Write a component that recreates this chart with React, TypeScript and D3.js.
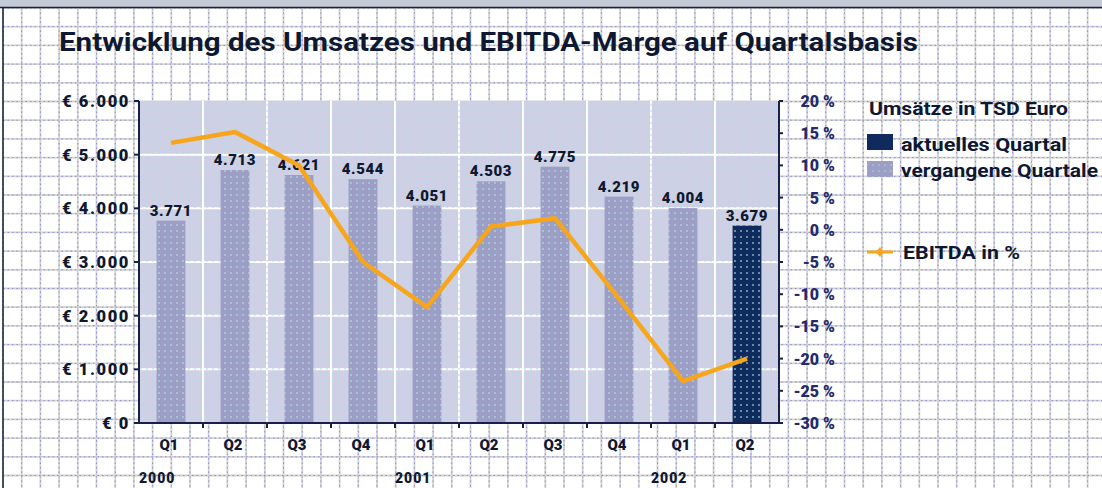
import React from 'react';
import * as d3 from 'd3';

const quarters = ['Q1', 'Q2', 'Q3', 'Q4', 'Q1', 'Q2', 'Q3', 'Q4', 'Q1', 'Q2'];
const years = ['2000', '2001', '2002'];
const yearStart = [0, 4, 8];
// Umsatz in TSD Euro
const umsatz = [3771, 4713, 4621, 4544, 4051, 4503, 4775, 4219, 4004, 3679];
// EBITDA-Marge in %
const ebitda = [13.5, 15.2, 10, -5, -12, 0.5, 1.8, -10.7, -23.5, -20];
const leftTicks = [0, 1000, 2000, 3000, 4000, 5000, 6000];
const rightTicks = [20, 15, 10, 5, 0, -5, -10, -15, -20, -25, -30];

const W = 1102;
const H = 488;
const plot = { left: 139, right: 779, top: 101, bottom: 423 };

const de = d3.formatLocale({ decimal: ',', thousands: '.', grouping: [3], currency: ['€ ', ''] });
const fmtNum = de.format(',');

const ink = '#0e1830';
const navy = '#0f2a5c';
const barGrey = '#9c9ec6';
const orange = '#f7a61c';
const font = 'Roboto, "DejaVu Sans", sans-serif';

export default function App() {
  const x = d3
    .scaleBand<number>()
    .domain(quarters.map((_, i) => i))
    .range([plot.left, plot.right])
    .paddingInner(0.55)
    .paddingOuter(0.275);
  const step = x.step();
  const yL = d3.scaleLinear().domain([0, 6000]).range([plot.bottom, plot.top]);
  const yR = d3.scaleLinear().domain([-30, 20]).range([plot.bottom, plot.top]);
  const cx = (i: number) => (x(i) as number) + x.bandwidth() / 2;
  const bandStart = (i: number) => plot.left + i * step;

  const line = d3
    .line<number>()
    .x((_, i) => cx(i))
    .y((d) => yR(d));

  const gridSp = 18.7;
  const vLines = d3.range(3, W, gridSp);
  const hLines = d3.range(8, H, gridSp);

  return (
    <svg
      width={W}
      height={H}
      style={{ position: 'absolute', left: 0, top: 0, background: '#fff' }}
      fontFamily={font}
    >
      <defs>
        <pattern id="dots" width={6} height={6} patternUnits="userSpaceOnUse">
          <circle cx={3} cy={3} r={0.9} fill="#a8e4e0" />
        </pattern>
      </defs>

      {/* graph paper */}
      <g>
        {vLines.map((v) => (
          <g key={'v' + v}>
            <line x1={v} x2={v} y1={8} y2={H} stroke="#d2d2d2" strokeWidth={1.8} />
            <line x1={v} x2={v} y1={8} y2={H} stroke="#8c8ce0" strokeWidth={1} strokeDasharray="1.5 3" />
          </g>
        ))}
        {hLines.map((h) => (
          <g key={'h' + h}>
            <line x1={3} x2={W} y1={h} y2={h} stroke="#d2d2d2" strokeWidth={1.8} />
            <line x1={3} x2={W} y1={h} y2={h} stroke="#8c8ce0" strokeWidth={1} strokeDasharray="1.5 3" />
          </g>
        ))}
      </g>
      <rect x={0} y={0} width={W} height={7} fill="#c4cbd6" />
      <line x1={0} x2={W} y1={7.5} y2={7.5} stroke="#1a2238" strokeWidth={1.5} />
      <line x1={3} x2={3} y1={7} y2={H} stroke="#1a2238" strokeWidth={1.5} />

      <text
        x={59}
        y={51}
        fontSize={26}
        fontWeight={700}
        fill={ink}
        textLength={859}
        lengthAdjust="spacingAndGlyphs"
      >
        Entwicklung des Umsatzes und EBITDA-Marge auf Quartalsbasis
      </text>

      {/* plot background */}
      <rect
        x={plot.left}
        y={plot.top}
        width={plot.right - plot.left}
        height={plot.bottom - plot.top}
        fill="#cfcfe5"
      />
      {leftTicks.slice(1, -1).map((t) => (
        <line key={'gl' + t} x1={plot.left} x2={plot.right} y1={yL(t)} y2={yL(t)} stroke="#fff" strokeWidth={2} />
      ))}
      {quarters.slice(1).map((_, i) => (
        <line
          key={'gv' + i}
          x1={bandStart(i + 1)}
          x2={bandStart(i + 1)}
          y1={plot.top}
          y2={plot.bottom}
          stroke="#fff"
          strokeWidth={2}
        />
      ))}

      {/* bars */}
      {umsatz.map((v, i) => (
        <rect
          key={'b' + i}
          x={x(i)}
          y={yL(v)}
          width={x.bandwidth()}
          height={yL(0) - yL(v)}
          fill={i === umsatz.length - 1 ? navy : barGrey}
        />
      ))}
      <rect
        x={plot.left}
        y={plot.top}
        width={plot.right - plot.left}
        height={plot.bottom - plot.top}
        fill="url(#dots)"
        opacity={0.8}
      />
      {umsatz.map((v, i) => (
        <text
          key={'bl' + i}
          x={cx(i)}
          y={yL(v) - 5}
          textAnchor="middle"
          fontSize={15}
          fontWeight={900}
          letterSpacing={0.6}
          fill={ink}
        >
          {fmtNum(v)}
        </text>
      ))}

      {/* EBITDA line */}
      <path d={line(ebitda) as string} fill="none" stroke={orange} strokeWidth={4.5} strokeLinejoin="round" />

      {/* axes */}
      <line x1={plot.left} x2={plot.left} y1={plot.top} y2={plot.bottom} stroke="#1a1f4a" strokeWidth={2} />
      <line x1={plot.right} x2={plot.right} y1={plot.top} y2={plot.bottom} stroke="#1a1f4a" strokeWidth={2} />
      <line x1={plot.left - 1} x2={plot.right + 1} y1={plot.bottom} y2={plot.bottom} stroke="#1a1f4a" strokeWidth={2} />

      {leftTicks.map((t) => (
        <g key={'lt' + t}>
          <line x1={plot.left - 5} x2={plot.left} y1={yL(t)} y2={yL(t)} stroke="#1a1f4a" strokeWidth={2} />
          <text
            x={plot.left - 9}
            y={yL(t) + 6}
            textAnchor="end"
            fontSize={16.5}
            fontWeight={900}
            letterSpacing={1.6}
            fill={ink}
          >
            {'€ ' + fmtNum(t)}
          </text>
        </g>
      ))}
      {rightTicks.map((t) => (
        <g key={'rt' + t}>
          <line x1={plot.right} x2={plot.right + 4} y1={yR(t)} y2={yR(t)} stroke="#1a1f4a" strokeWidth={2} />
          <text x={835} y={yR(t) + 6} textAnchor="end" fontSize={16} fontWeight={900} fill="#252a6a">
            {t + ' %'}
          </text>
        </g>
      ))}
      {quarters.map((q, i) => (
        <g key={'xt' + i}>
          {i > 0 && (
            <line
              x1={bandStart(i)}
              x2={bandStart(i)}
              y1={plot.bottom}
              y2={plot.bottom + 5}
              stroke="#1a1f4a"
              strokeWidth={2}
            />
          )}
          <text x={cx(i) - 2} y={450} textAnchor="middle" fontSize={15} fontWeight={900} fill={ink}>
            {q}
          </text>
        </g>
      ))}
      {years.map((yr, i) => (
        <text key={yr} x={bandStart(yearStart[i])} y={483} fontSize={14} fontWeight={900} letterSpacing={1} fill={ink}>
          {yr}
        </text>
      ))}

      {/* legend */}
      <text x={869} y={115} fontSize={18} fontWeight={700} fill={ink} textLength={199} lengthAdjust="spacingAndGlyphs">
        Umsätze in TSD Euro
      </text>
      <rect x={867} y={134} width={26} height={16} fill={navy} />
      <text x={901} y={151} fontSize={18.5} fontWeight={700} fill={ink} textLength={166} lengthAdjust="spacingAndGlyphs">
        aktuelles Quartal
      </text>
      <rect x={867} y={161} width={26} height={16} fill={barGrey} />
      <rect x={867} y={161} width={26} height={16} fill="url(#dots)" opacity={0.6} />
      <text x={901} y={177} fontSize={18.5} fontWeight={700} fill={ink} textLength={197} lengthAdjust="spacingAndGlyphs">
        vergangene Quartale
      </text>
      <line x1={867} x2={893} y1={252} y2={252} stroke={orange} strokeWidth={3} />
      <path d="M880,247 L884,252 L880,257 L876,252 Z" fill={orange} />
      <text x={903} y={259} fontSize={19} fontWeight={700} fill={ink} textLength={117} lengthAdjust="spacingAndGlyphs">
        EBITDA in %
      </text>
    </svg>
  );
}
